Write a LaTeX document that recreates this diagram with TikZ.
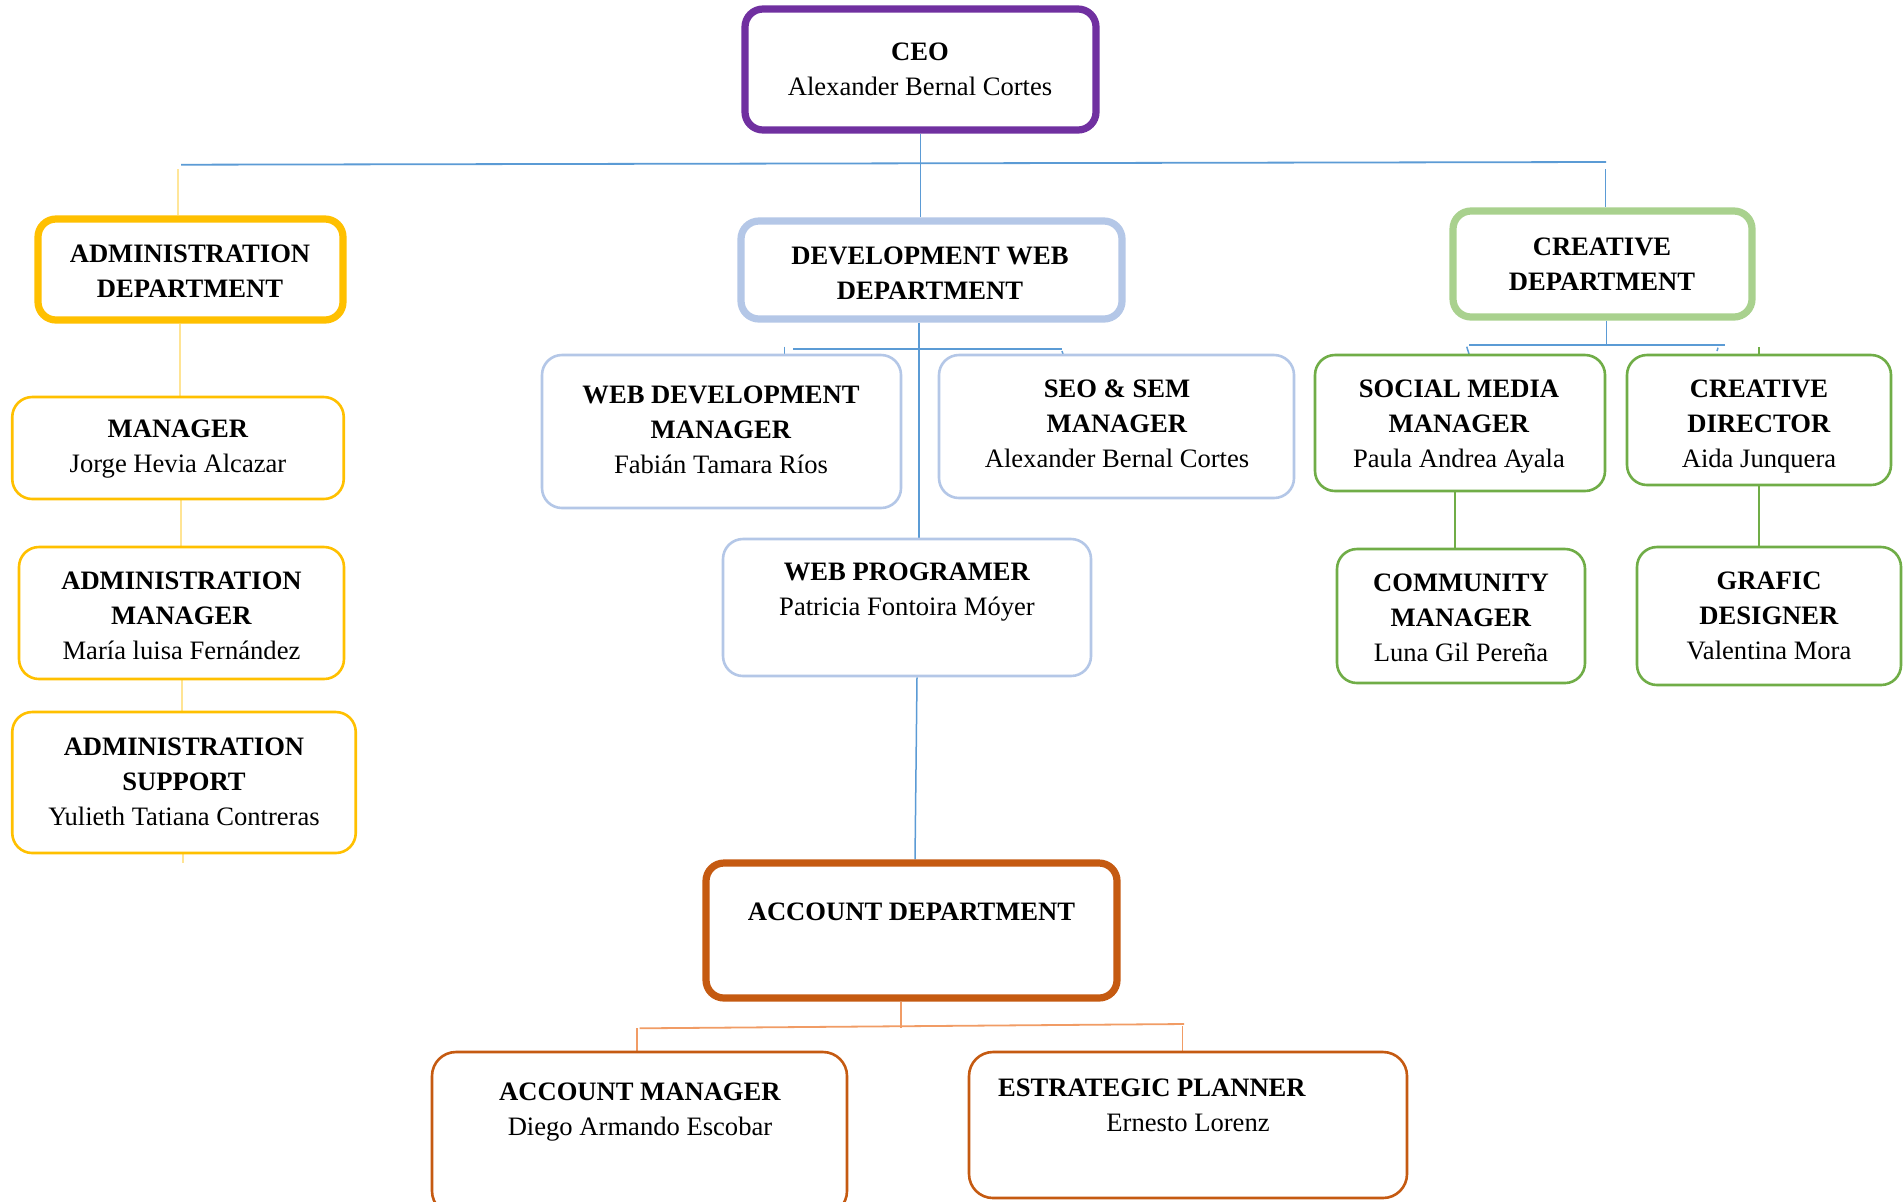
\documentclass[tikz,border=0pt]{standalone}
\usepackage{fontspec}
\setmainfont{Liberation Serif}
\usetikzlibrary{backgrounds}
\definecolor{cPurple}{HTML}{7030A0}
\definecolor{cYellow}{HTML}{FFC000}
\definecolor{cLBlue}{HTML}{B4C7E7}
\definecolor{cLGreen}{HTML}{A9D18E}
\definecolor{cGreen}{HTML}{70AD47}
\definecolor{cOrange}{HTML}{C55A11}
\definecolor{cLine}{HTML}{5B9BD5}
\definecolor{cLYel}{HTML}{FFE699}
\definecolor{cYelLine}{HTML}{FFD966}
\definecolor{cOrLine}{HTML}{F19C65}
\newcommand\fs{\fontsize{13.3}{17.5}\selectfont}
\tikzset{
  thickbox/.style={rectangle, rounded corners=9pt, line width=3.6pt, fill=white, inner sep=0pt},
  thinbox/.style={rectangle, rounded corners=10pt, line width=1.3pt, fill=white, inner sep=0pt},
  dims/.style 2 args={minimum width=#1, minimum height=#2},
  txt/.style={anchor=north, align=center, inner sep=0pt, font=\fs},
  conn/.style={line width=0.75pt},
  bus/.style={line width=0.9pt}
}
\begin{document}
\begin{tikzpicture}[x=0.5pt,y=-0.5pt]
\useasboundingbox (0,0) rectangle (1904,1201);
% boxes
\node[thickbox, draw=cPurple, dims={175.5pt}{60.5pt}] (ceo) at (920.5,69.5) {};
\node[thickbox, draw=cYellow, dims={152.5pt}{50.5pt}] (admdept) at (190.5,269.5) {};
\node[thickbox, draw=cLBlue, dims={190.5pt}{49pt}] (devdept) at (931.5,270) {};
\node[thickbox, draw=cLGreen, dims={149.5pt}{53pt}] (credept) at (1602.5,264) {};
\node[thinbox, draw=cYellow, dims={165.75pt}{51pt}] (mgr) at (178,448) {};
\node[thinbox, draw=cYellow, dims={162.5pt}{66pt}] (admmgr) at (181.5,613) {};
\node[thinbox, draw=cYellow, dims={171.75pt}{70.5pt}] (admsup) at (184,782.5) {};
\node[thinbox, draw=cLBlue, dims={179.5pt}{76.5pt}] (webdev) at (721.5,431.5) {};
\node[thinbox, draw=cLBlue, dims={177.5pt}{71.5pt}] (seo) at (1116.5,426.5) {};
\node[thinbox, draw=cLBlue, dims={184pt}{68.5pt}] (webprog) at (907,607.5) {};
\node[thickbox, draw=cOrange, dims={205.5pt}{67.5pt}] (accdept) at (911.5,930.5) {};
\node[thinbox, draw=cOrange, rounded corners=12pt, dims={207.5pt}{81.5pt}] (accmgr) at (639.5,1133.5) {};
\node[thinbox, draw=cOrange, rounded corners=12pt, dims={219pt}{73pt}] (planner) at (1188,1125) {};
\node[thinbox, draw=cGreen, dims={145pt}{68pt}] (social) at (1460,423) {};
\node[thinbox, draw=cGreen, dims={132pt}{65pt}] (credir) at (1759,420) {};
\node[thinbox, draw=cGreen, dims={124pt}{67pt}] (community) at (1461,616) {};
\node[thinbox, draw=cGreen, dims={132pt}{69pt}] (grafic) at (1769,616) {};
% texts
\node[txt] (tceo) at (920,36) {\strut\textbf{CEO}\\Alexander Bernal Cortes};
\node[txt] (tadmdept) at (190,238) {\strut\textbf{ADMINISTRATION}\\\textbf{DEPARTMENT}};
\node[txt] (tdevdept) at (930,240) {\strut\textbf{DEVELOPMENT WEB}\\\textbf{DEPARTMENT}};
\node[txt] (tcredept) at (1602,231) {\strut\textbf{CREATIVE}\\\textbf{DEPARTMENT}};
\node[txt] (tmgr) at (178,413) {\strut\textbf{MANAGER}\\Jorge Hevia Alcazar};
\node[txt] (tadmmgr) at (181.5,565) {\strut\textbf{ADMINISTRATION}\\\textbf{MANAGER}\\María luisa Fernández};
\node[txt] (tadmsup) at (184,731) {\strut\textbf{ADMINISTRATION}\\\textbf{SUPPORT}\\Yulieth Tatiana Contreras};
\node[txt] (twebdev) at (721,379) {\strut\textbf{WEB DEVELOPMENT}\\\textbf{MANAGER}\\Fabián Tamara Ríos};
\node[txt] (tseo) at (1117,373) {\strut\textbf{SEO \& SEM}\\\textbf{MANAGER}\\Alexander Bernal Cortes};
\node[txt] (twebprog) at (907,556) {\strut\textbf{WEB PROGRAMER}\\Patricia Fontoira Móyer};
\node[txt] (taccdept) at (911.5,896) {\strut\textbf{ACCOUNT DEPARTMENT}};
\node[txt] (taccmgr) at (640,1076) {\strut\textbf{ACCOUNT MANAGER}\\Diego Armando Escobar};
\node[txt] (tplanner) at (1152,1072) {\strut\textbf{ESTRATEGIC PLANNER}};
\node[txt] (tplannername) at (1188,1107) {\strut Ernesto Lorenz};
\node[txt] (tsocial) at (1459,373) {\strut\textbf{SOCIAL MEDIA}\\\textbf{MANAGER}\\Paula Andrea Ayala};
\node[txt] (tcredir) at (1759,373) {\strut\textbf{CREATIVE}\\\textbf{DIRECTOR}\\Aida Junquera};
\node[txt] (tcommunity) at (1461,567) {\strut\textbf{COMMUNITY}\\\textbf{MANAGER}\\Luna Gil Pereña};
\node[txt] (tgrafic) at (1769,565) {\strut\textbf{GRAFIC}\\\textbf{DESIGNER}\\Valentina Mora};
% coordinates
\coordinate (busL) at (181,164.7);
\coordinate (busR) at (1606,162);
\coordinate (xceo) at (920.7,0);
\coordinate (xleft) at (178,169);
\coordinate (xright) at (1605.5,169);
\coordinate (xa1) at (180,0);
\coordinate (xa2) at (181,0);
\coordinate (xa3) at (182,0);
\coordinate (aend) at (183,863);
\coordinate (xdev) at (919,0);
\coordinate (dbusL) at (793,348.7);
\coordinate (dbusR) at (1062,348.7);
\coordinate (dtickA) at (784.7,346.7);
\coordinate (dtickB) at (784.7,354);
\coordinate (dtickC) at (1062,351);
\coordinate (dtickD) at (1063,354);
\coordinate (pgTop) at (917,0);
\coordinate (adTop) at (915,0);
\coordinate (xcre) at (1606.7,344.7);
\coordinate (cbusL) at (1469,344.7);
\coordinate (cbusR) at (1725,344.7);
\coordinate (ctickA) at (1466.7,346.7);
\coordinate (ctickB) at (1469,354);
\coordinate (ctickC) at (1718,347.7);
\coordinate (ctickD) at (1717,351);
\coordinate (gtick) at (1759,347);
\coordinate (xsoc) at (1455,0);
\coordinate (xcd) at (1759,0);
\coordinate (xacc) at (901,1027.7);
\coordinate (abusL) at (639.5,1028.3);
\coordinate (abusR) at (1184,1024);
\coordinate (aL) at (637,1028);
\coordinate (aR) at (1182.6,1026);
% connectors
\begin{scope}[on background layer]
\fill[white] (0,0) rectangle (1904,1201);
\draw[bus, cLine] (busL) -- (busR);
\draw[conn, cLine] (ceo.south -| xceo) -- (devdept.north -| xceo);
\draw[conn, cLYel] (xleft) -- (admdept.north -| xleft);
\draw[conn, cLine] (xright) -- (credept.north -| xright);
\draw[conn, cYelLine!70] (admdept.south -| xa1) -- (mgr.north -| xa1);
\draw[conn, cYelLine!70] (mgr.south -| xa2) -- (admmgr.north -| xa2);
\draw[conn, cYelLine!70] (admmgr.south -| xa3) -- (admsup.north -| xa3);
\draw[conn, cYelLine!70] (admsup.south -| aend) -- (aend);
\draw[conn, cLine] (devdept.south -| xdev) -- (webprog.north -| xdev);
\draw[bus, cLine] (dbusL) -- (dbusR);
\draw[conn, cLine] (dtickA) -- (dtickB);
\draw[conn, cLine] (dtickC) -- (dtickD);
\draw[conn, cLine] (webprog.south -| pgTop) -- (accdept.north -| adTop);
\draw[conn, cLine] (credept.south -| xcre) -- (xcre);
\draw[bus, cLine] (cbusL) -- (cbusR);
\draw[conn, cLine] (ctickA) -- (ctickB);
\draw[conn, cLine] (ctickC) -- (ctickD);
\draw[conn, cGreen] (gtick) -- (credir.north -| gtick);
\draw[conn, cGreen] (social.south -| xsoc) -- (community.north -| xsoc);
\draw[conn, cGreen] (credir.south -| xcd) -- (grafic.north -| xcd);
\draw[conn, cOrLine] (accdept.south -| xacc) -- (xacc);
\draw[bus, cOrLine] (abusL) -- (abusR);
\draw[conn, cOrLine] (aL) -- (accmgr.north -| aL);
\draw[conn, cOrLine] (aR) -- (planner.north -| aR);
\end{scope}
\end{tikzpicture}
\end{document}
